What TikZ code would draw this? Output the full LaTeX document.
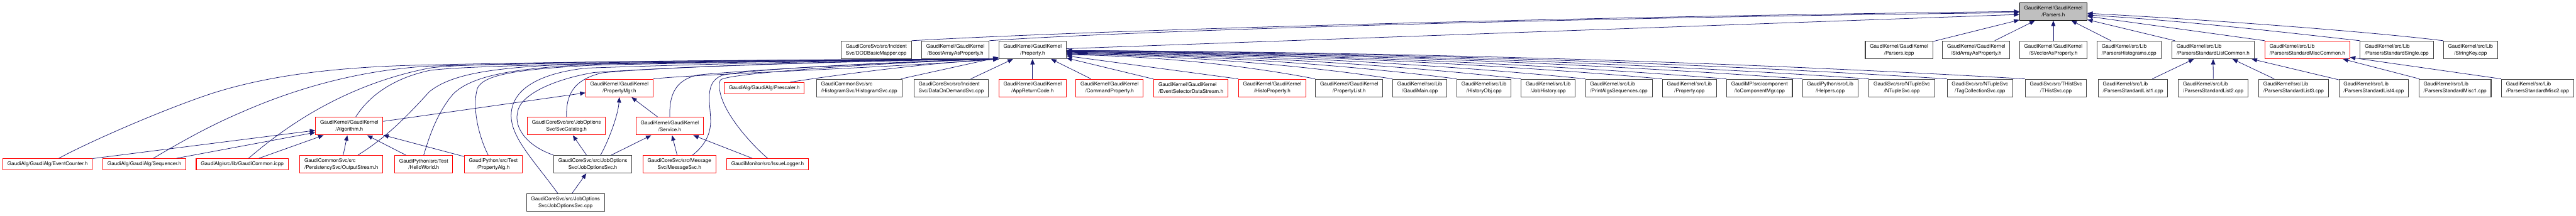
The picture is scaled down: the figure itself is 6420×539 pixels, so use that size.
\documentclass[tikz,border=0pt]{standalone}
\usepackage{fontspec}
\setmainfont{TeX Gyre Heros}
\definecolor{edgeblue}{RGB}{25,25,112}
\definecolor{cutred}{RGB}{255,0,0}
\definecolor{boxgray}{RGB}{64,64,64}
\definecolor{rootgray}{RGB}{191,191,191}
\usetikzlibrary{arrows.meta}
\begin{document}
\begin{tikzpicture}[x=0.75pt, y=-0.75pt,
  every node/.style={font=\fontsize{9.6}{12.8}\selectfont},
  file/.style={draw=boxgray, line width=1.2pt, inner xsep=8.6pt, inner ysep=0pt,
               minimum height=33.2pt, align=center},
  cut/.style={file, draw=cutred},
  root/.style={file, draw=black, fill=rootgray},
  oneline/.style={minimum height=21.2pt},
  lft/.style={align=left},
  inc/.style={edgeblue, line width=0.9pt, -{Triangle[length=10pt, width=8pt]}}]
\useasboundingbox (0,0) rectangle (6420,539);

\node[root] (parsers) at (5117.3,28.7) {GaudiKernel/GaudiKernel\\/Parsers.h};

\node[file, lft] (dodmapper) at (2184,124.5) {GaudiCoreSvc/src/Incident\\Svc/DODBasicMapper.cpp};
\node[file] (boostarray) at (2381.1,124.5) {GaudiKernel/GaudiKernel\\/BoostArrayAsProperty.h};
\node[file] (property) at (2573.3,124.5) {GaudiKernel/GaudiKernel\\/Property.h};
\node[file] (parsersicpp) at (4732.8,124.5) {GaudiKernel/GaudiKernel\\/Parsers.icpp};
\node[file] (stdarray) at (4925.2,124.5) {GaudiKernel/GaudiKernel\\/StdArrayAsProperty.h};
\node[file] (svector) at (5117.3,124.5) {GaudiKernel/GaudiKernel\\/SVectorAsProperty.h};
\node[file, lft] (parshisto) at (5306,124.5) {GaudiKernel/src/Lib\\/ParsersHistograms.cpp};
\node[file, lft] (listcommon) at (5515.6,124.5) {GaudiKernel/src/Lib\\/ParsersStandardListCommon.h};
\node[cut, lft] (misccommon) at (5750.5,124.5) {GaudiKernel/src/Lib\\/ParsersStandardMiscCommon.h};
\node[file, lft] (stdsingle) at (5973.2,124.5) {GaudiKernel/src/Lib\\/ParsersStandardSingle.cpp};
\node[file] (stringkey) at (6157.1,124.5) {GaudiKernel/src/Lib\\/StringKey.cpp};

\node[cut] (propmgr) at (1543.7,219.8) {GaudiKernel/GaudiKernel\\/PropertyMgr.h};
\node[cut, oneline] (prescaler) at (1905,219.8) {GaudiAlg/GaudiAlg/Prescaler.h};
\node[file, lft] (histsvc) at (2141.4,219.8) {GaudiCommonSvc/src\\/HistogramSvc/HistogramSvc.cpp};
\node[file, lft] (dodsvc) at (2370.7,219.8) {GaudiCoreSvc/src/Incident\\Svc/DataOnDemandSvc.cpp};
\node[cut] (appret) at (2573.3,219.8) {GaudiKernel/GaudiKernel\\/AppReturnCode.h};
\node[cut] (cmdprop) at (2765.3,219.8) {GaudiKernel/GaudiKernel\\/CommandProperty.h};
\node[cut, lft] (evsel) at (2967.9,219.8) {GaudiKernel/GaudiKernel\\/EventSelectorDataStream.h};
\node[cut] (histoprop) at (3170.6,219.8) {GaudiKernel/GaudiKernel\\/HistoProperty.h};
\node[file] (proplist) at (3362.5,219.8) {GaudiKernel/GaudiKernel\\/PropertyList.h};
\node[file] (gaudimain) at (3538.5,219.8) {GaudiKernel/src/Lib\\/GaudiMain.cpp};
\node[file] (historyobj) at (3698.5,219.8) {GaudiKernel/src/Lib\\/HistoryObj.cpp};
\node[file] (jobhist) at (3858.5,219.8) {GaudiKernel/src/Lib\\/JobHistory.cpp};
\node[file, lft] (printalgs) at (4034.5,219.8) {GaudiKernel/src/Lib\\/PrintAlgsSequences.cpp};
\node[file] (propcpp) at (4210.4,219.8) {GaudiKernel/src/Lib\\/Property.cpp};
\node[file] (iocomp) at (4385.1,219.8) {GaudiMP/src/component\\/IoComponentMgr.cpp};
\node[file] (helpers) at (4561.2,219.8) {GaudiPython/src/Lib\\/Helpers.cpp};
\node[file] (ntuple) at (4739.8,219.8) {GaudiSvc/src/NTupleSvc\\/NTupleSvc.cpp};
\node[file] (tagcoll) at (4934.6,219.8) {GaudiSvc/src/NTupleSvc\\/TagCollectionSvc.cpp};
\node[file] (thist) at (5123.8,219.8) {GaudiSvc/src/THistSvc\\/THistSvc.cpp};
\node[file, lft] (list1) at (5315.9,219.8) {GaudiKernel/src/Lib\\/ParsersStandardList1.cpp};
\node[file, lft] (list2) at (5515.9,219.8) {GaudiKernel/src/Lib\\/ParsersStandardList2.cpp};
\node[file, lft] (list3) at (5716.1,219.8) {GaudiKernel/src/Lib\\/ParsersStandardList3.cpp};
\node[file, lft] (list4) at (5915.9,219.8) {GaudiKernel/src/Lib\\/ParsersStandardList4.cpp};
\node[file, lft] (misc1) at (6118.4,219.8) {GaudiKernel/src/Lib\\/ParsersStandardMisc1.cpp};
\node[file, lft] (misc2) at (6324,219.8) {GaudiKernel/src/Lib\\/ParsersStandardMisc2.cpp};

\node[cut] (algorithm) at (870.4,314.8) {GaudiKernel/GaudiKernel\\/Algorithm.h};
\node[cut] (svccat) at (1411.8,314.8) {GaudiCoreSvc/src/JobOptions\\Svc/SvcCatalog.h};
\node[cut] (service) at (1669.2,314.8) {GaudiKernel/GaudiKernel\\/Service.h};

\node[cut, oneline] (eventcounter) at (118.6,410) {GaudiAlg/GaudiAlg/EventCounter.h};
\node[cut, oneline] (sequencer) at (360,410) {GaudiAlg/GaudiAlg/Sequencer.h};
\node[cut, oneline] (gaudicommon) at (603.6,410) {GaudiAlg/src/lib/GaudiCommon.icpp};
\node[cut, lft] (outputstream) at (850.6,410) {GaudiCommonSvc/src\\/PersistencySvc/OutputStream.h};
\node[cut] (helloworld) at (1056,410) {GaudiPython/src/Test\\/HelloWorld.h};
\node[cut] (propalg) at (1229.4,410) {GaudiPython/src/Test\\/PropertyAlg.h};
\node[file] (jobsvch) at (1477.4,410) {GaudiCoreSvc/src/JobOptions\\Svc/JobOptionsSvc.h};
\node[cut] (messagesvc) at (1693.2,410) {GaudiCoreSvc/src/Message\\Svc/MessageSvc.h};
\node[cut, oneline] (issuelogger) at (1913,410) {GaudiMonitor/src/IssueLogger.h};

\node[file] (jobsvccpp) at (1409.4,505.5) {GaudiCoreSvc/src/JobOptions\\Svc/JobOptionsSvc.cpp};

\draw[inc] (property) -- (parsers.185);
\draw[inc] (boostarray.north east) .. controls (2865,74) and (4033,42) .. (parsers.182);
\draw[inc] (dodmapper.north east) .. controls (2774,73) and (4033,40) .. (parsers.180);
\draw[inc] (parsersicpp) -- (parsers);
\draw[inc] (stdarray) -- (parsers);
\draw[inc] (svector) -- (parsers);
\draw[inc] (parshisto) -- (parsers);
\draw[inc] (listcommon) -- (parsers);
\draw[inc] (misccommon.north west) -- (parsers.-8);
\draw[inc] (stdsingle.north west) .. controls (5731,85) and (5451,52) .. (parsers.-6);
\draw[inc] (stringkey.north west) .. controls (5939,83) and (5601,55) .. (parsers.-3);

\draw[inc] (list1) -- (listcommon);
\draw[inc] (list2) -- (listcommon);
\draw[inc] (list3) -- (listcommon);
\draw[inc] (list4) -- (listcommon);
\draw[inc] (misc1) -- (misccommon);
\draw[inc] (misc2.north west) -- (misccommon.-10);

\draw[inc] (appret) -- (property);
\draw[inc] (cmdprop) -- (property);
\draw[inc] (evsel) -- (property);
\draw[inc] (histoprop.north west) -- (property.-10);
\draw[inc] (proplist.north west) .. controls (3185,179) and (2968,142) .. (property.-8);
\draw[inc] (gaudimain.north west) .. controls (3348,178) and (3064,141) .. (property.-7);
\draw[inc] (historyobj.north west) .. controls (3484,178) and (3144,140) .. (property.-6);
\draw[inc] (jobhist.north west) .. controls (3620,178) and (3224,139) .. (property.-5);
\draw[inc] (printalgs.north west) .. controls (3756,177) and (3304,138) .. (property.-4);
\draw[inc] (propcpp.north west) .. controls (3920,177) and (3400,137) .. (property.-3);
\draw[inc] (iocomp.north west) .. controls (4055,177) and (3480,136) .. (property.-3);
\draw[inc] (helpers.north west) .. controls (4216,177) and (3574,135) .. (property.-2);
\draw[inc] (ntuple.north west) .. controls (4355,176) and (3656,134) .. (property.-2);
\draw[inc] (tagcoll.north west) .. controls (4520,176) and (3753,133) .. (property.-1);
\draw[inc] (thist.north west) .. controls (4686,176) and (3850,132) .. (property.-1);

\draw[inc] (dodsvc) -- (property);
\draw[inc] (histsvc) -- (property);
\draw[inc] (prescaler.13) .. controls (2080,188) and (2300,158) .. (property.south west);
\draw[inc] (propmgr.north east) .. controls (1720,186) and (2200,170) .. (property.south west);
\draw[inc] (service.north) .. controls (1668,240) and (1680,200) .. (1740,187)
  .. controls (1900,172) and (2300,152) .. (property.south west);
\draw[inc] (messagesvc.35) .. controls (1755,365) and (1772,335) .. (1771,300)
  .. controls (1770,255) and (1755,205) .. (1800,188)
  .. controls (1860,172) and (2300,151) .. (property.south west);
\draw[inc] (issuelogger.north) .. controls (1850,340) and (1780,250) .. (1795,200)
  .. controls (1810,180) and (2300,152) .. (property.south west);
\draw[inc] (svccat.north) .. controls (1411,240) and (1425,200) .. (1500,182)
  .. controls (1650,165) and (2250,150) .. (property.south west);
\draw[inc] (jobsvch.north west) .. controls (1315,365) and (1280,320) .. (1290,280)
  .. controls (1295,240) and (1370,200) .. (1480,181)
  .. controls (1800,160) and (2250,149) .. (property.south west);
\draw[inc] (jobsvccpp.130) .. controls (1330,400) and (1275,345) .. (1274,290)
  .. controls (1273,230) and (1330,185) .. (1460,170)
  .. controls (1800,158) and (2250,149) .. (property.south west);
\draw[inc] (propalg.119) .. controls (1195,345) and (1175,270) .. (1190,220)
  .. controls (1205,188) and (1280,172) .. (1500,162)
  .. controls (1900,154) and (2250,149) .. (property.south west);
\draw[inc] (helloworld.north) .. controls (1070,340) and (1090,280) .. (1130,234)
  .. controls (1180,185) and (1300,168) .. (1500,160)
  .. controls (1900,153) and (2250,149) .. (property.south west);
\draw[inc] (outputstream.29) .. controls (960,345) and (1010,295) .. (1070,229)
  .. controls (1130,180) and (1250,165) .. (1500,158)
  .. controls (1900,152) and (2250,149) .. (property.south west);
\draw[inc] (algorithm.55) .. controls (910,255) and (960,200) .. (1070,176)
  .. controls (1200,156) and (2200,150) .. (property.south west);
\draw[inc] (gaudicommon.43) .. controls (690,335) and (840,215) .. (1070,170)
  .. controls (1200,150) and (2200,150) .. (property.south west);
\draw[inc] (sequencer.34) .. controls (450,355) and (520,315) .. (600,281)
  .. controls (720,228) and (880,176) .. (1070,165)
  .. controls (1600,152) and (2200,148) .. (property.south west);
\draw[inc] (eventcounter.28) .. controls (230,350) and (420,268) .. (535,231)
  .. controls (680,186) and (850,166) .. (1070,162)
  .. controls (1600,150) and (2200,148) .. (property.south west);

\draw[inc] (eventcounter) -- (algorithm);
\draw[inc] (sequencer) -- (algorithm);
\draw[inc] (gaudicommon) -- (algorithm);
\draw[inc] (outputstream) -- (algorithm);
\draw[inc] (helloworld) -- (algorithm);
\draw[inc] (propalg) -- (algorithm);

\draw[inc] (algorithm) -- (propmgr);
\draw[inc] (jobsvch.50) .. controls (1515,355) and (1540,290) .. (propmgr.south);
\draw[inc] (service) -- (propmgr);
\draw[inc] (jobsvch) -- (service);
\draw[inc] (messagesvc) -- (service);
\draw[inc] (issuelogger) -- (service);
\draw[inc] (jobsvch) -- (svccat);
\draw[inc] (jobsvccpp) -- (jobsvch);
\end{tikzpicture}
\end{document}
